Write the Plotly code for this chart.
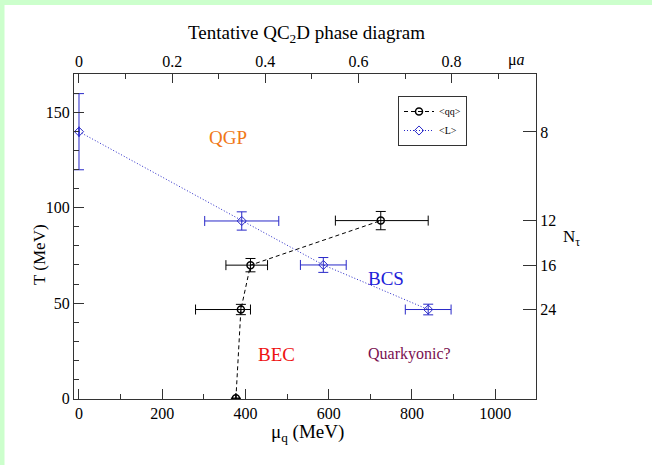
import plotly.graph_objects as go

# ---- data ----
ainv = 1119.0  # MeV, lattice spacing inverse (mu*a <-> mu_q)

qq_mu = [377, 389, 412, 725]
qq_T = [0.0, 46.6, 69.9, 93.3]
qq_mu_err_minus = [None, 109, 59, 109]
qq_mu_err_plus = [None, 23, 41, 114]
qq_T_err = [None, 2.7, 3.5, 4.8]

L_mu = [0, 391, 587, 839]
L_T = [140.0, 93.1, 70.0, 46.6]
L_mu_err = [None, 89, 55, 55]
L_T_err = [20, 4.8, 3.9, 2.8]

Ntau_vals = [8, 12, 16, 24]
top_ticks = [0, 0.2, 0.4, 0.6, 0.8]

W, H = 652, 465
L_, R_, T_, B_ = 74, 536, 74, 399
pw, ph = R_ - L_, B_ - T_

def px(x):
    return (x - L_) / pw

def py(y):
    return (B_ - y) / ph

serif = "Liberation Serif, Times New Roman, serif"
blue = "#2828c8"

xr = [-12, 1098]
yr = [-0.4, 170.3]

fig = go.Figure()

fig.add_trace(go.Scatter(
    x=qq_mu, y=qq_T, mode="lines+markers", name="&lt;qq&gt;",
    line=dict(color="black", width=1, dash="4px,3px"),
    marker=dict(symbol="circle-open", size=7, color="black", line=dict(width=1.5, color="black")),
    error_x=dict(type="data", array=qq_mu_err_plus, arrayminus=qq_mu_err_minus, symmetric=False,
                 color="black", thickness=1, width=5),
    error_y=dict(type="data", array=qq_T_err, color="black", thickness=1, width=5),
))
fig.add_trace(go.Scatter(
    x=L_mu, y=L_T, mode="lines+markers", name="&lt;L&gt;",
    line=dict(color=blue, width=1, dash="1px,2px"),
    marker=dict(symbol="diamond-open", size=7, color=blue, line=dict(width=1, color=blue)),
    error_x=dict(type="data", array=L_mu_err, color=blue, thickness=1, width=5),
    error_y=dict(type="data", array=L_T_err, color=blue, thickness=1, width=5),
))
# dummy trace for secondary axes
fig.add_trace(go.Scatter(x=[None], y=[None], xaxis="x2", yaxis="y2", showlegend=False,
                         hoverinfo="skip"))

axcommon = dict(showgrid=False, zeroline=False, showline=True, linecolor="#333",
                linewidth=1, tickcolor="#333",
                tickfont=dict(family=serif, size=16, color="black"))

fig.update_layout(
    width=W, height=H,
    margin=dict(l=L_, r=W - R_, t=T_, b=H - B_),
    paper_bgcolor="white", plot_bgcolor="white",
    xaxis=dict(range=xr, dtick=200, tick0=0, ticks="inside", ticklen=10,
               minor=dict(dtick=100, ticks="inside", ticklen=5, tickcolor="#333"),
               **axcommon),
    xaxis2=dict(range=[xr[0] / ainv, xr[1] / ainv], overlaying="x", side="top",
                tickvals=top_ticks, ticktext=["0", "0.2", "0.4", "0.6", "0.8"],
                ticks="inside", ticklen=9,
                minor=dict(dtick=0.1, tick0=0, ticks="inside", ticklen=5, tickcolor="#333"),
                **axcommon),
    yaxis=dict(range=yr, dtick=50, tick0=0, ticks="inside", ticklen=10,
               minor=dict(dtick=10, ticks="inside", ticklen=5, tickcolor="#333"),
               **axcommon),
    yaxis2=dict(range=yr, overlaying="y", side="right",
                tickvals=[ainv / n for n in Ntau_vals], ticktext=[str(n) for n in Ntau_vals],
                ticks="inside", ticklen=13,
                **axcommon),
    legend=dict(x=px(398), y=py(96), xanchor="left", yanchor="top",
                bgcolor="white", bordercolor="#333", borderwidth=1,
                font=dict(family=serif, size=10, color="black"),
                itemwidth=30, tracegroupgap=0),
    showlegend=True,
)

shapes = [
    dict(type="rect", xref="paper", yref="paper", x0=px(-5), x1=px(4.5), y0=py(500), y1=py(-5),
         fillcolor="#ccffcc", line=dict(width=0), layer="below"),
    dict(type="rect", xref="paper", yref="paper", x0=px(-5), x1=px(700), y0=py(5), y1=py(-5),
         fillcolor="#ccffcc", line=dict(width=0), layer="below"),
]
fig.update_layout(shapes=shapes)

ann = []
def add(text, x, y, size, color="black", **kw):
    ann.append(dict(text=text, x=x, y=y, xref="paper", yref="paper", showarrow=False,
                    xanchor="center", yanchor="middle",
                    font=dict(family=serif, size=size, color=color), **kw))

add("Tentative QC<sub>2</sub>D phase diagram", px(306), py(34), 19)
add("μ<i>a</i>", px(516), py(60), 16)
add("N<sub>τ</sub>", px(571), py(238), 17)
add("μ<sub>q</sub> (MeV)", px(307), py(433), 19)
add("T (MeV)", px(40), py(255), 17, textangle=-90)
fig.update_layout(annotations=ann)

# region labels in data coordinates
for txt, xv, yv, size, col in [("QGP", 358, 137, 19, "#f07818"),
                               ("BCS", 738, 63, 19, "#2020d8"),
                               ("BEC", 475, 23, 19, "#ee1111"),
                               ("Quarkyonic?", 795, 23, 16, "#7a1050")]:
    fig.add_annotation(text=txt, x=xv, y=yv, xref="x", yref="y", showarrow=False,
                       xanchor="center", yanchor="middle",
                       font=dict(family=serif, size=size, color=col))

fig.write_html("out.html")
